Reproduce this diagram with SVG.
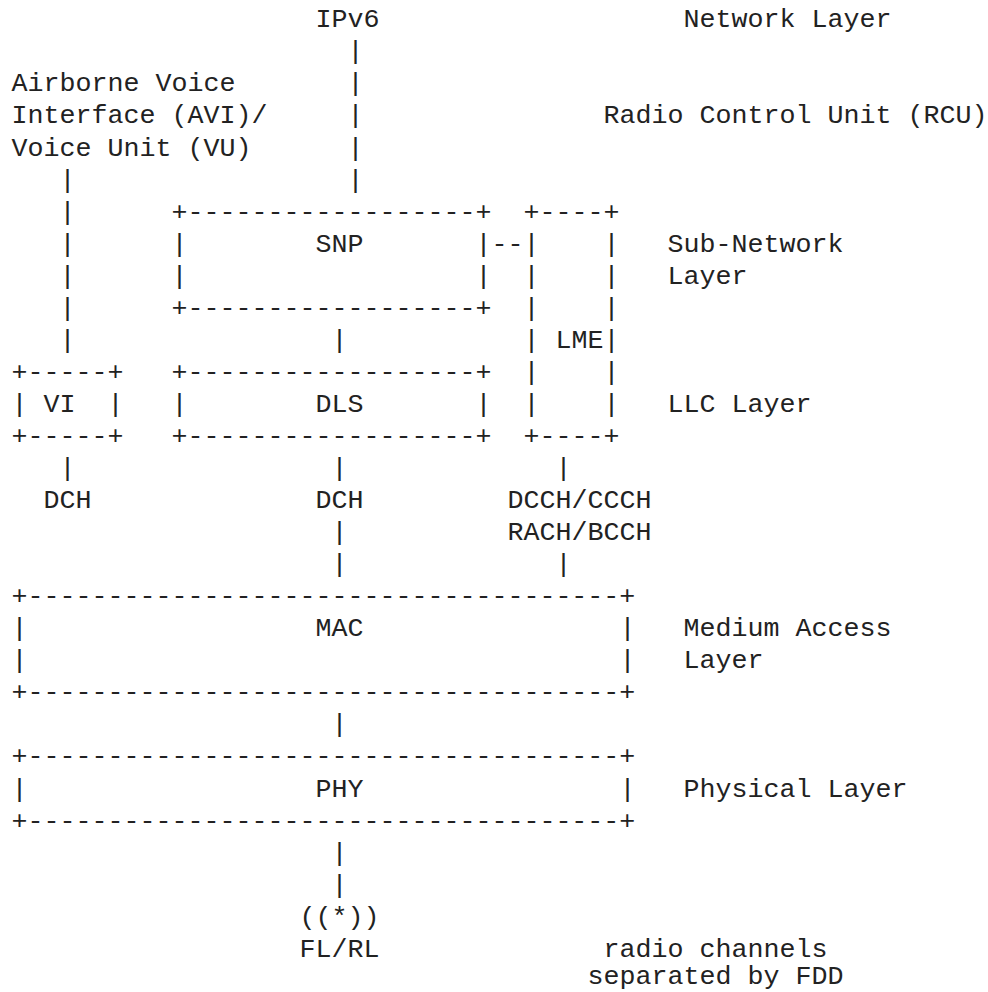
<svg xmlns="http://www.w3.org/2000/svg" width="988" height="992" viewBox="0 0 988 992">
<style>
text{font-family:"Liberation Mono","DejaVu Sans Mono",monospace;font-size:26.67px;fill:#222;white-space:pre}
</style>
<rect width="988" height="992" fill="#fff"/>
<g id="labels">
<text x="683.5" y="27.3">Network Layer</text>
<text x="11.5" y="91.4">Airborne Voice</text>
<text x="11.5" y="123.45">Interface (AVI)/</text>
<text x="11.5" y="155.5">Voice Unit (VU)</text>
<text x="603.5" y="123.45">Radio Control Unit (RCU)</text>
<text x="667.5" y="251.65">Sub-Network</text>
<text x="667.5" y="283.7">Layer</text>
<text x="667.5" y="411.9">LLC Layer</text>
<text x="683.5" y="636.25">Medium Access</text>
<text x="683.5" y="668.3">Layer</text>
<text x="683.5" y="796.5">Physical Layer</text>
<text x="603.5" y="956.75">radio channels</text>
<text x="587.5" y="984">separated by FDD</text>
</g>
<g id="ipv6"><text x="315.5" y="27.3">IPv6</text></g>
<g id="snp">
<text x="171.5" y="219.6">+------------------+</text>
<text x="171.5" y="251.65">|</text><text x="315.5" y="251.65">SNP</text><text x="475.5" y="251.65">|</text>
<text x="171.5" y="283.7">|</text><text x="475.5" y="283.7">|</text>
<text x="171.5" y="315.75">+------------------+</text>
</g>
<g id="lme">
<text x="523.5" y="219.6">+----+</text>
<text x="523.5" y="251.65">|</text><text x="603.5" y="251.65">|</text>
<text x="523.5" y="283.7">|</text><text x="603.5" y="283.7">|</text>
<text x="523.5" y="315.75">|</text><text x="603.5" y="315.75">|</text>
<text x="523.5" y="347.8">|</text><text x="555.5" y="347.8">LME|</text>
<text x="523.5" y="379.85">|</text><text x="603.5" y="379.85">|</text>
<text x="523.5" y="411.9">|</text><text x="603.5" y="411.9">|</text>
<text x="523.5" y="443.95">+----+</text>
</g>
<g id="vi">
<text x="11.5" y="379.85">+-----+</text>
<text x="11.5" y="411.9">|</text><text x="43.5" y="411.9">VI</text><text x="107.5" y="411.9">|</text>
<text x="11.5" y="443.95">+-----+</text>
</g>
<g id="dls">
<text x="171.5" y="379.85">+------------------+</text>
<text x="171.5" y="411.9">|</text><text x="315.5" y="411.9">DLS</text><text x="475.5" y="411.9">|</text>
<text x="171.5" y="443.95">+------------------+</text>
</g>
<g id="mac">
<text x="11.5" y="604.2">+-------------------------------------+</text>
<text x="11.5" y="636.25">|</text><text x="315.5" y="636.25">MAC</text><text x="619.5" y="636.25">|</text>
<text x="11.5" y="668.3">|</text><text x="619.5" y="668.3">|</text>
<text x="11.5" y="700.35">+-------------------------------------+</text>
</g>
<g id="phy">
<text x="11.5" y="764.45">+-------------------------------------+</text>
<text x="11.5" y="796.5">|</text><text x="315.5" y="796.5">PHY</text><text x="619.5" y="796.5">|</text>
<text x="11.5" y="828.55">+-------------------------------------+</text>
</g>
<g id="antenna">
<text x="299.5" y="924.7">((*))</text>
<text x="299.5" y="956.75">FL/RL</text>
</g>
<g id="channels">
<text x="43.5" y="508.05">DCH</text>
<text x="315.5" y="508.05">DCH</text>
<text x="507.5" y="508.05">DCCH/CCCH</text>
<text x="507.5" y="540.1">RACH/BCCH</text>
</g>
<g id="connectors">
<text x="347.5" y="59.35">|</text>
<text x="347.5" y="91.4">|</text>
<text x="347.5" y="123.45">|</text>
<text x="347.5" y="155.5">|</text>
<text x="347.5" y="187.55">|</text>
<text x="59.5" y="187.55">|</text>
<text x="59.5" y="219.6">|</text>
<text x="59.5" y="251.65">|</text>
<text x="59.5" y="283.7">|</text>
<text x="59.5" y="315.75">|</text>
<text x="59.5" y="347.8">|</text>
<text x="491.5" y="251.65">--</text>
<text x="331.5" y="347.8">|</text>
<text x="59.5" y="476.0">|</text>
<text x="331.5" y="476.0">|</text>
<text x="555.5" y="476.0">|</text>
<text x="331.5" y="540.1">|</text>
<text x="331.5" y="572.15">|</text>
<text x="555.5" y="572.15">|</text>
<text x="331.5" y="732.4">|</text>
<text x="331.5" y="860.6">|</text>
<text x="331.5" y="892.65">|</text>
</g>
</svg>
